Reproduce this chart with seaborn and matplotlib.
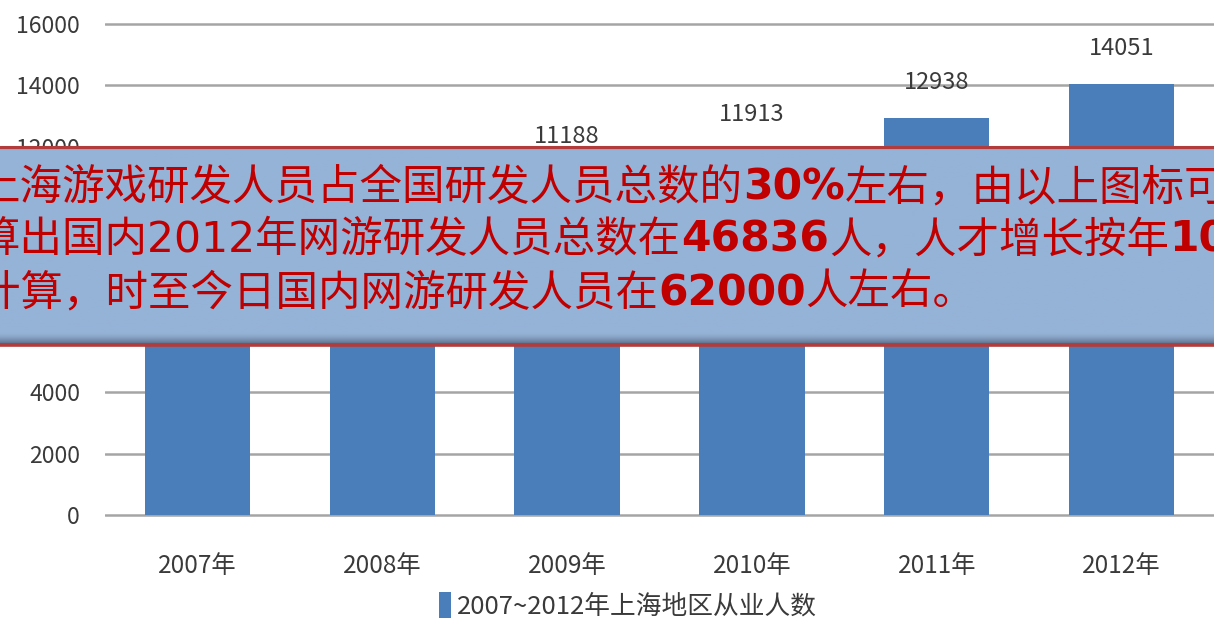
import numpy as np
import pandas as pd
import matplotlib
matplotlib.use("Agg")
import matplotlib.pyplot as plt
import matplotlib.transforms as mtransforms
from matplotlib.patches import Patch
import seaborn as sns

# ---- data -------------------------------------------------------------
years = ["2007年", "2008年", "2009年", "2010年", "2011年", "2012年"]
staff = [9253, 10215, 11188, 11913, 12938, 14051]
y_ticks = [0, 2000, 4000, 6000, 8000, 10000, 12000, 14000, 16000]
legend_label = "2007~2012年上海地区从业人数"

# caption banner: (text, bold) pieces per line
note_lines = [
    [("上海游戏研发人员占全国研发人员总数的", False), ("30%", True),
     ("左右，由以上图标可", False)],
    [("算出国内2012年网游研发人员总数在", False), ("46836", True),
     ("人，人才增长按年", False), ("10", True)],
    [("计算，时至今日国内网游研发人员在", False), ("62000", True),
     ("人左右。", False)],
]

# ---- style ------------------------------------------------------------
W, H = 1214, 623
BAR = "#4A7EBB"
GRID = "#A5A5A5"
INK = "#3a3a3a"

sns.set_theme(style="white")
plt.rcParams["font.family"] = ["Noto Sans CJK SC", "DejaVu Sans"]

fig = plt.figure(figsize=(W / 100, H / 100), dpi=100, facecolor="white")

# plot area: y=0 sits at pixel row 515, y=16000 at row 24
y_lo, y_hi = -150, 16300
px_per_unit = (515 - 24) / 16000
bot_px = 515 + (0 - y_lo) * px_per_unit
top_px = 24 - (y_hi - 16000) * px_per_unit
ax = fig.add_axes([105 / W, (H - bot_px) / H, (W - 105) / W, (bot_px - top_px) / H])

df = pd.DataFrame({"year": years, "staff": staff})
sns.barplot(data=df, x="year", y="staff", color=BAR, saturation=1,
            width=0.57, linewidth=0, ax=ax, zorder=3)

ax.set_xlim(-0.5, 5.5)
ax.set_ylim(y_lo, y_hi)
ax.set_yticks(y_ticks)
ax.set_yticklabels([str(v) for v in y_ticks])
ax.yaxis.grid(True, color=GRID, lw=1.8)
ax.xaxis.grid(False)
ax.set_axisbelow(True)
for s in ax.spines.values():
    s.set_visible(False)
ax.set_xlabel("")
ax.set_ylabel("")
ax.set_facecolor("white")
ax.tick_params(axis="x", length=0, pad=24, labelsize=17.5, labelcolor=INK)
ax.tick_params(axis="y", length=0, pad=18, labelsize=16.5, labelcolor=INK)

# value labels above each bar
for i, v in enumerate(staff):
    ax.annotate(str(v), (i, v), xytext=(0, 35), textcoords="offset pixels",
                ha="center", va="center", fontsize=17, color=INK, zorder=4)

# legend below the axis
fig.legend([Patch(facecolor=BAR, edgecolor="none")], [legend_label],
           loc="center", bbox_to_anchor=(628 / W, (H - 606) / H),
           frameon=False, fontsize=18.5, handlelength=0.45, handleheight=1.2,
           handletextpad=0.25, labelcolor=INK)

# ---- caption banner across the chart ----------------------------------
box_top, box_bot = 147, 345
ov = fig.add_axes([0, (H - box_bot) / H, 1, (box_bot - box_top) / H], zorder=10)
ov.set_axis_off()
h = box_bot - box_top
base = np.array([149, 179, 215]) / 255
dark = np.array([86, 102, 128]) / 255
shade = np.zeros(h)
n = 13
shade[-n:] = np.linspace(0, 1, n) ** 1.6
m = 5
shade[:m] = np.linspace(0.3, 0, m)
grad = base[None, :] * (1 - shade[:, None]) + dark[None, :] * shade[:, None]
ov.imshow(np.repeat(grad[:, None, :], 2, axis=1), aspect="auto",
          extent=(0, 1, 0, 1), origin="upper", interpolation="bilinear")
ov.set_xlim(0, 1)
ov.set_ylim(0, 1)
ov.axhline(1, color="#B23B3B", lw=2.2, clip_on=False)
ov.axhline(0, color="#B23B3B", lw=2.6, clip_on=False)

renderer = fig.canvas.get_renderer()
pix = mtransforms.IdentityTransform()
baselines = [200, 252, 305]
x0 = -22
for line, base_y in zip(note_lines, baselines):
    x = x0
    for piece, bold in line:
        t = fig.text(x, H - base_y, piece, transform=pix, ha="left", va="baseline",
                     fontsize=30.6, color="#C00000",
                     fontweight="bold" if bold else "normal",
                     family=["DejaVu Sans", "Noto Sans CJK SC"], zorder=11)
        x += t.get_window_extent(renderer).width

fig.savefig("out.png", dpi=100, facecolor="white")
